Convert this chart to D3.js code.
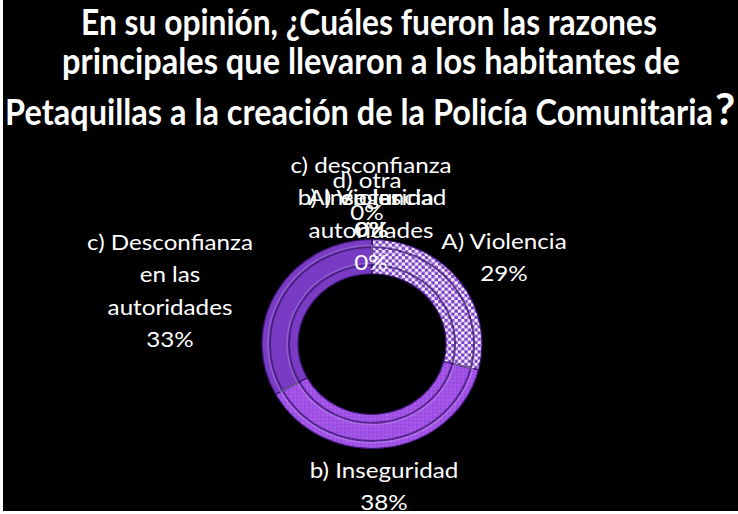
<!DOCTYPE html>
<html><head><meta charset="utf-8">
<script src="https://cdn.jsdelivr.net/npm/d3@7"></script>
<style>html,body{margin:0;padding:0;background:#000;}svg{display:block;}</style>
</head><body>
<script>
// ---- data ----
const titleLines = [
  "En su opinión, ¿Cuáles fueron las razones",
  "principales que llevaron a los habitantes de",
  "Petaquillas a la creación de la Policía Comunitaria"
];
const categories = ["A) Violencia", "b) Inseguridad", "c) Desconfianza en las autoridades",
                    "d) otra", "A) Violencia", "b) Inseguridad", "c) desconfianza en las autoridades"];
const values = [29, 38, 33, 0, 0, 0, 0];

// ---- layout ----
const W = 738, H = 514;
const cx = 372, cy = 344, R = 110, r0 = 74, yScale = 0.95;
const fills = ["url(#checker)", "url(#insegTex)", "#7a3bc4", "#7a3bc4", "#7a3bc4", "#7a3bc4", "#7a3bc4"];
// label anchors (center x, first baseline)
const labelAnchor = [[504, 249], [384, 478], [170, 250], [367, 188], [371, 205], [372, 205], [371, 173]];
const labelSX = 1.1;

const svg = d3.select("body").append("svg").attr("width", W).attr("height", H);
svg.append("rect").attr("width", W).attr("height", H).attr("fill", "#000");

const defs = svg.append("defs");
const chk = defs.append("pattern").attr("id", "checker").attr("patternUnits", "userSpaceOnUse")
  .attr("width", 6.6).attr("height", 6.6);
chk.append("rect").attr("width", 6.6).attr("height", 6.6).attr("fill", "#f4f0fa");
chk.append("rect").attr("width", 3.3).attr("height", 3.3).attr("fill", "#7b3cc6");
chk.append("rect").attr("x", 3.3).attr("y", 3.3).attr("width", 3.3).attr("height", 3.3).attr("fill", "#7b3cc6");
const ins = defs.append("pattern").attr("id", "insegTex").attr("patternUnits", "userSpaceOnUse")
  .attr("width", 4).attr("height", 4);
ins.append("rect").attr("width", 4).attr("height", 4).attr("fill", "#a052e6");
ins.append("rect").attr("width", 2).attr("height", 2).attr("fill", "#9a4ce0");
ins.append("rect").attr("x", 2).attr("y", 2).attr("width", 2).attr("height", 2).attr("fill", "#a85ae9");

// ---- title ----
const tSpec = [[369, 35, 576], [371, 74, 618], [359, 125, 708]];
titleLines.forEach((t, i) => {
  const tx = svg.append("text").attr("text-anchor", "middle").attr("fill", "#fff")
    .attr("font-family", "Lato, 'Open Sans', sans-serif").attr("font-weight", "bold")
    .attr("font-size", 36).text(t);
  const w = tx.node().getComputedTextLength();
  tx.attr("transform", `translate(${tSpec[i][0]},${tSpec[i][1]}) scale(${tSpec[i][2] / w},1)`);
});
svg.append("text").attr("x", 725).attr("y", 125).attr("text-anchor", "middle").attr("fill", "#fff")
  .attr("font-family", "Lato, sans-serif").attr("font-weight", "bold").attr("font-size", 44).text("?");

// ---- donut ----
const pie = d3.pie().sort(null).value(d => d)(values);
const arc = d3.arc().innerRadius(r0).outerRadius(R);
const arcIn = d3.arc().innerRadius(r0 + 9).outerRadius(R - 8);
const g = svg.append("g").attr("transform", `translate(${cx},${cy}) scale(1,${yScale})`);
g.selectAll("path.seg").data(pie).join("path").attr("class", "seg")
  .attr("d", arc).attr("fill", (d, i) => fills[i])
  .attr("stroke", "#3a1570").attr("stroke-width", 1.2);
g.selectAll("path.bev").data(pie.filter(d => d.value > 0)).join("path").attr("class", "bev")
  .attr("d", arcIn).attr("fill", "none")
  .attr("stroke", "#3c1670").attr("stroke-opacity", 0.75).attr("stroke-width", 2);
g.selectAll("path.hl").data(pie.filter(d => d.value > 0)).join("path").attr("class", "hl")
  .attr("d", d3.arc().innerRadius(r0 + 11).outerRadius(R - 6)).attr("fill", "none")
  .attr("stroke", "#ffffff").attr("stroke-opacity", 0.18).attr("stroke-width", 1.5);

// ---- labels ----
const fmt = v => Math.round(v) + "%";
const total = d3.sum(values);
const lab = svg.append("g").attr("font-family", "Lato, 'Open Sans', sans-serif")
  .attr("font-size", 22).attr("fill", "#fff").attr("text-anchor", "middle");
function wrap(str, maxW) {
  const words = str.split(" "); const lines = []; let cur = "";
  const t = lab.append("text");
  words.forEach(w => {
    const test = cur ? cur + " " + w : w;
    t.text(test);
    if (t.node().getComputedTextLength() > maxW && cur) { lines.push(cur); cur = w; }
    else cur = test;
  });
  lines.push(cur); t.remove(); return lines;
}
const order = [6, 3, 4, 5, 0, 1, 2];
order.forEach(i => {
  const lines = wrap(categories[i], 158).concat([fmt(values[i] / total * 100)]);
  const t = lab.append("text")
    .attr("transform", `translate(${labelAnchor[i][0]},${labelAnchor[i][1]}) scale(${labelSX},1)`);
  lines.forEach((l, k) => t.append("tspan").attr("x", 0).attr("dy", k ? 32.5 : 0).text(l));
});

// white frame edges
svg.append("rect").attr("x", 0).attr("y", 0).attr("width", 3).attr("height", H).attr("fill", "#fff");
svg.append("rect").attr("x", 0).attr("y", H - 3).attr("width", W).attr("height", 3).attr("fill", "#fff");
</script>
</body></html>
